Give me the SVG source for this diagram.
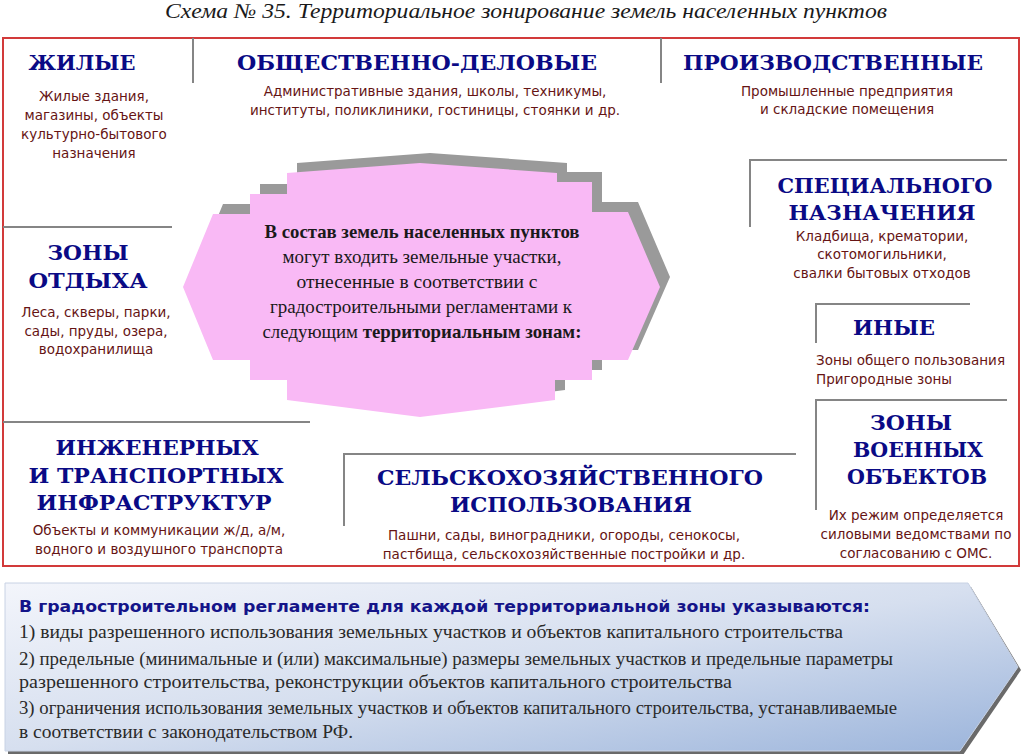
<svg xmlns="http://www.w3.org/2000/svg" width="1024" height="754" viewBox="0 0 1024 754">
<style>
.hd{font-family:"DejaVu Serif","Liberation Serif",serif;font-weight:bold;font-size:21px;fill:#0a0a85;text-anchor:middle}
.ds{font-family:"DejaVu Sans","Liberation Sans",sans-serif;font-size:13.5px;fill:#661414;text-anchor:middle}
.dl{font-family:"DejaVu Sans","Liberation Sans",sans-serif;font-size:13.5px;fill:#661414}
.gl{stroke:#858585;stroke-width:2;fill:none}
.oc{font-family:"Liberation Serif",serif;font-size:19px;fill:#1a1a1a;text-anchor:middle}
.bt{font-family:"Liberation Serif",serif;font-size:18px;fill:#2a2a2a}
</style>
<defs>
<linearGradient id="bg" x1="0" y1="0" x2="1" y2="1">
<stop offset="0" stop-color="#F3F5FB"/>
<stop offset="0.5" stop-color="#D6DFEF"/>
<stop offset="1" stop-color="#9BB4DB"/>
</linearGradient>
</defs>
<rect width="1024" height="754" fill="#ffffff"/>
<text x="526" y="18" font-family="Liberation Serif, serif" font-style="italic" font-size="21" fill="#1a1a1a" text-anchor="middle" textLength="722" lengthAdjust="spacingAndGlyphs">Схема № 35. Территориальное зонирование земель населенных пунктов</text>
<g id="frame">
<rect x="3" y="38" width="1016" height="528" fill="none" stroke="#D23A3A" stroke-width="2"/>
</g>
<g id="connectors">
<path class="gl" d="M193,38 V83"/>
<path class="gl" d="M661,38 V83"/>
<path class="gl" d="M3,227 H172"/>
<path class="gl" d="M3,422 H310"/>
<path class="gl" d="M750,227 V160 H1007"/>
<path class="gl" d="M816,343 V304 H970"/>
<path class="gl" d="M816,510 V400 H1007"/>
<path class="gl" d="M344,526 V454 H796"/>
</g>
<g id="center">
<path d="M193,277 L223,204 L260,204 L260,184 L297,184 L297,163 L430,153 L567,163 L567,172 L602,172 L602,202 L638,202 L670,277 L638,350 L602,350 L602,370 L565,370 L565,390 L430,407 L297,390 L297,370 L260,370 L260,350 L223,350 Z" fill="#9a9a9a"/>
<path d="M183,287 L213,214 L250,214 L250,194 L287,194 L287,173 L420,163 L557,173 L557,182 L592,182 L592,212 L628,212 L660,287 L628,360 L592,360 L592,380 L555,380 L555,400 L420,417 L287,400 L287,380 L250,380 L250,360 L213,360 Z" fill="#F9B9F5"/>
<text class="oc" x="422" y="238" font-weight="bold" textLength="315" lengthAdjust="spacingAndGlyphs">В состав земель населенных пунктов</text>
<text class="oc" x="422" y="263" textLength="279" lengthAdjust="spacingAndGlyphs">могут входить земельные участки,</text>
<text class="oc" x="417" y="288" textLength="241" lengthAdjust="spacingAndGlyphs">отнесенные в соответствии с</text>
<text class="oc" x="421" y="313" textLength="302" lengthAdjust="spacingAndGlyphs">градостроительными регламентами к</text>
<text class="oc" x="422" y="338" textLength="319" lengthAdjust="spacingAndGlyphs">следующим <tspan font-weight="bold">территориальным зонам:</tspan></text>
</g>
<g id="zhilye">
<text class="hd" x="82" y="70" textLength="107" lengthAdjust="spacingAndGlyphs">ЖИЛЫЕ</text>
<text class="ds" x="94" y="101">Жилые здания,</text>
<text class="ds" x="94" y="120">магазины, объекты</text>
<text class="ds" x="94" y="139">культурно-бытового</text>
<text class="ds" x="94" y="158">назначения</text>
</g>
<g id="obshch">
<text class="hd" x="417" y="70" textLength="360" lengthAdjust="spacingAndGlyphs">ОБЩЕСТВЕННО-ДЕЛОВЫЕ</text>
<text class="ds" x="435" y="96">Административные здания, школы, техникумы,</text>
<text class="ds" x="435" y="115">институты, поликлиники, гостиницы, стоянки и др.</text>
</g>
<g id="proizv">
<text class="hd" x="833" y="70" textLength="300" lengthAdjust="spacingAndGlyphs">ПРОИЗВОДСТВЕННЫЕ</text>
<text class="ds" x="847" y="96">Промышленные предприятия</text>
<text class="ds" x="847" y="114">и складские помещения</text>
</g>
<g id="spec">
<text class="hd" x="885" y="193" textLength="215" lengthAdjust="spacingAndGlyphs">СПЕЦИАЛЬНОГО</text>
<text class="hd" x="882" y="220" textLength="187" lengthAdjust="spacingAndGlyphs">НАЗНАЧЕНИЯ</text>
<text class="ds" x="882" y="241">Кладбища, крематории,</text>
<text class="ds" x="882" y="259">скотомогильники,</text>
<text class="ds" x="882" y="278">свалки бытовых отходов</text>
</g>
<g id="inye">
<text class="hd" x="894" y="335" textLength="82" lengthAdjust="spacingAndGlyphs">ИНЫЕ</text>
<text class="dl" x="816" y="365">Зоны общего пользования</text>
<text class="dl" x="816" y="384">Пригородные зоны</text>
</g>
<g id="voen">
<text class="hd" x="911" y="430" textLength="82" lengthAdjust="spacingAndGlyphs">ЗОНЫ</text>
<text class="hd" x="918" y="457" textLength="130" lengthAdjust="spacingAndGlyphs">ВОЕННЫХ</text>
<text class="hd" x="917" y="484" textLength="140" lengthAdjust="spacingAndGlyphs">ОБЪЕКТОВ</text>
<text class="ds" x="916" y="520">Их режим определяется</text>
<text class="ds" x="916" y="539">силовыми ведомствами по</text>
<text class="ds" x="916" y="558">согласованию с ОМС.</text>
</g>
<g id="otdykh">
<text class="hd" x="88" y="260" textLength="81" lengthAdjust="spacingAndGlyphs">ЗОНЫ</text>
<text class="hd" x="88" y="288" textLength="119" lengthAdjust="spacingAndGlyphs">ОТДЫХА</text>
<text class="ds" x="96" y="317">Леса, скверы, парки,</text>
<text class="ds" x="96" y="336">сады, пруды, озера,</text>
<text class="ds" x="96" y="354">водохранилища</text>
</g>
<g id="inzh">
<text class="hd" x="157" y="455" textLength="203" lengthAdjust="spacingAndGlyphs">ИНЖЕНЕРНЫХ</text>
<text class="hd" x="156" y="483" textLength="255" lengthAdjust="spacingAndGlyphs">И ТРАНСПОРТНЫХ</text>
<text class="hd" x="154" y="510" textLength="235" lengthAdjust="spacingAndGlyphs">ИНФРАСТРУКТУР</text>
<text class="ds" x="159" y="535">Объекты и коммуникации ж/д, а/м,</text>
<text class="ds" x="159" y="554">водного и воздушного транспорта</text>
</g>
<g id="selkhoz">
<text class="hd" x="570" y="485" textLength="386" lengthAdjust="spacingAndGlyphs">СЕЛЬСКОХОЗЯЙСТВЕННОГО</text>
<text class="hd" x="571" y="512" textLength="242" lengthAdjust="spacingAndGlyphs">ИСПОЛЬЗОВАНИЯ</text>
<text class="ds" x="564" y="540">Пашни, сады, виноградники, огороды, сенокосы,</text>
<text class="ds" x="564" y="559">пастбища, сельскохозяйственные постройки и др.</text>
</g>
<g id="reglament">
<path d="M8,587 L971,587 L1021,670 L963,755 L8,755 Z" fill="#6a6a6a"/>
<path d="M5,583 L968,583 L1018,667 L960,751 L5,751 Z" fill="url(#bg)" stroke="#c8d2e4" stroke-width="1"/>
<text x="19" y="612" font-family="DejaVu Sans, sans-serif" font-weight="bold" font-size="15" fill="#141489" textLength="851" lengthAdjust="spacingAndGlyphs">В градостроительном регламенте для каждой территориальной зоны указываются:</text>
<text class="bt" x="19" y="638" textLength="824" lengthAdjust="spacingAndGlyphs">1) виды разрешенного использования земельных участков и объектов капитального строительства</text>
<text class="bt" x="19" y="665" textLength="874" lengthAdjust="spacingAndGlyphs">2) предельные (минимальные и (или) максимальные) размеры земельных участков и предельные параметры</text>
<text class="bt" x="19" y="688" textLength="713" lengthAdjust="spacingAndGlyphs">разрешенного строительства, реконструкции объектов капитального строительства</text>
<text class="bt" x="19" y="714" textLength="878" lengthAdjust="spacingAndGlyphs">3) ограничения использования земельных участков и объектов капитального строительства, устанавливаемые</text>
<text class="bt" x="19" y="738" textLength="334" lengthAdjust="spacingAndGlyphs">в соответствии с законодательством РФ.</text>
</g>
</svg>
